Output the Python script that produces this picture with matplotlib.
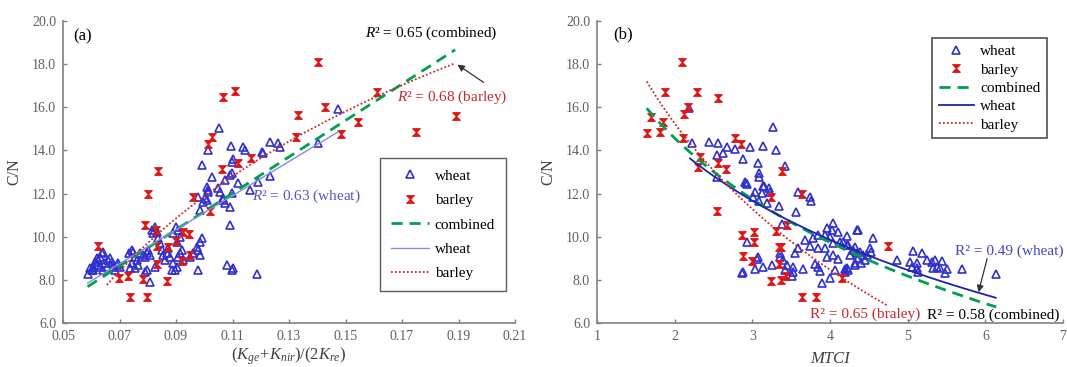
import numpy as np
import matplotlib
matplotlib.use("Agg")
import matplotlib.pyplot as plt
from matplotlib.path import Path

plt.rcParams['font.family'] = ['Liberation Serif', 'DejaVu Serif']
plt.rcParams['mathtext.fontset'] = 'custom'
plt.rcParams['mathtext.rm'] = 'Liberation Serif'
plt.rcParams['mathtext.it'] = 'Liberation Serif:italic'

# ---------------- Panel (a) data ----------------
a_wheat_x = [0.0587, 0.0602, 0.0607, 0.0613, 0.0619, 0.0625, 0.0631, 0.0637, 0.0643, 0.0649,
             0.0655, 0.0660, 0.0666, 0.0672, 0.0678, 0.0684, 0.0690, 0.0696, 0.0702, 0.0631,
             0.0619, 0.0607, 0.0596, 0.0643,
             0.0734, 0.0743, 0.0749, 0.0755, 0.0761, 0.0767, 0.0737, 0.0743, 0.0773, 0.0784,
             0.0790, 0.0796, 0.0802, 0.0808, 0.0814, 0.0820, 0.0826, 0.0832, 0.0837, 0.0843,
             0.0849, 0.0855, 0.0861, 0.0867, 0.0873, 0.0879, 0.0885, 0.0890, 0.0896, 0.0902,
             0.0908, 0.0914, 0.0920, 0.0926, 0.0950, 0.0961, 0.0973, 0.0985, 0.0991, 0.0979,
             0.0985, 0.0979, 0.0796, 0.0808, 0.0826, 0.0790, 0.0755, 0.0900, 0.0908, 0.0914,
             0.0902, 0.0890,
             0.0985, 0.0997, 0.1003, 0.1009, 0.1014, 0.0979, 0.1026, 0.1050, 0.1056, 0.1067,
             0.1073, 0.1091, 0.1097, 0.1091, 0.1121, 0.1162, 0.1191, 0.1233, 0.1091, 0.1079,
             0.1097, 0.1103, 0.1186,
             0.1053, 0.1014, 0.1094, 0.1138, 0.1144, 0.1203, 0.1207, 0.1233, 0.1262, 0.1268,
             0.1404, 0.1475, 0.1103, 0.1097, 0.0991, 0.1097, 0.1073, 0.1014, 0.1009, 0.1067]
a_wheat_y = [8.26, 8.46, 8.61, 8.84, 9.00, 8.92, 9.07, 9.23, 9.30, 8.77,
             8.61, 8.92, 9.00, 8.84, 8.61, 8.46, 8.69, 8.77, 8.61, 8.61,
             8.69, 8.46, 8.53, 8.46,
             9.23, 9.38, 9.30, 9.07, 8.92, 8.69, 8.54, 8.77, 9.23, 9.15,
             9.07, 9.23, 9.38, 9.15, 10.31, 10.16, 10.46, 10.23, 9.93, 9.69,
             9.38, 9.15, 8.92, 9.23, 9.46, 9.07, 8.46, 8.77, 8.46, 8.61,
             9.07, 9.23, 9.38, 8.92, 9.07, 9.23, 9.54, 9.77, 9.93, 9.38,
             9.15, 8.46, 8.46, 7.92, 8.61, 8.38, 8.54, 10.44, 10.31, 10.00,
             9.77, 10.16,
             11.24, 11.62, 11.78, 12.32, 12.16, 11.85, 12.78, 12.24, 12.09, 11.78,
             11.55, 11.39, 12.01, 12.86, 12.47, 12.16, 12.55, 12.81, 10.54, 8.69,
             8.46, 8.54, 8.26,
             15.05, 14.02, 14.21, 14.17, 14.02, 13.94, 13.87, 14.38, 14.33, 14.17,
             14.36, 15.92, 13.59, 13.45, 13.32, 12.94, 12.63, 12.09, 11.70, 11.70]

a_barley_x = [0.1402, 0.1068, 0.1109, 0.1427, 0.1333, 0.1610, 0.1543, 0.1483, 0.1750, 0.1890,
              0.1324, 0.1027, 0.1012, 0.1164, 0.1121, 0.1062, 0.0835, 0.0802, 0.0959, 0.1020,
              0.0790, 0.0829, 0.0924, 0.0946, 0.0899, 0.0625, 0.0832, 0.0873, 0.0950, 0.0920,
              0.0832, 0.0699, 0.0731, 0.0782, 0.0869, 0.0737, 0.0796]
a_barley_y = [18.11, 16.46, 16.75, 16.01, 15.66, 16.72, 15.30, 14.78, 14.85, 15.58,
              14.61, 14.61, 14.30, 13.65, 13.43, 13.12, 13.05, 11.97, 11.83, 11.21,
              10.54, 10.31, 10.23, 10.11, 9.80, 9.58, 9.57, 9.54, 9.15, 8.89,
              8.73, 8.10, 8.18, 8.04, 7.96, 7.22, 7.22]

# trend lines (a): [slope, intercept, x_min, x_max]
a_comb_lin = [84.4, 2.73, 0.0587, 0.1888]
a_wheat_lin = [79.05, 3.21, 0.0587, 0.1475]
# log trend: y = k*ln(x) + c
a_barley_log = [9.71, 34.23, 0.0655, 0.1888]

# ---------------- Panel (b) data ----------------
b_wheat_x = [2.188, 2.219, 2.446, 2.561, 2.669, 2.540, 2.618, 2.776, 2.969, 3.140,
             3.269, 3.304, 3.420, 2.883, 3.076, 3.089, 3.089, 3.140, 2.918, 3.218,
             2.540, 3.153, 3.033, 3.119, 3.226, 3.012, 3.089, 3.184, 3.583, 3.741,
             3.750, 3.342, 3.557, 3.377, 4.041, 3.955, 4.020, 4.105, 4.342, 3.848,
             3.934, 3.999, 4.213, 3.677, 3.784, 3.848, 3.934, 4.041, 4.127, 3.741,
             4.213, 4.299, 4.342, 4.256, 3.591, 3.548, 3.955, 4.041, 4.105, 3.806,
             3.848, 4.193, 4.236, 4.320, 4.063, 3.870, 3.655, 3.526, 3.526, 3.506,
             3.398, 3.441, 3.420, 3.355, 3.355, 3.248, 3.140, 3.033, 3.076, 3.055,
             2.934, 2.862, 2.883, 3.999, 3.892, 4.556, 4.170, 4.236, 4.320, 4.385,
             4.427, 4.363, 4.449, 4.513, 4.534, 4.470, 4.405, 4.213, 4.191, 4.320,
             4.865, 5.063, 5.179, 5.028, 5.050, 5.122, 5.122, 5.135, 5.251, 5.308,
             5.350, 5.436, 5.372, 5.328, 5.414, 5.500, 5.479, 5.706, 6.135, 2.905,
             2.927, 4.363]
b_wheat_y = [15.95, 14.33, 14.38, 14.33, 14.17, 13.79, 13.87, 14.07, 14.17, 14.22,
             15.07, 14.02, 13.28, 13.59, 13.43, 12.94, 12.78, 12.36, 12.51, 12.24,
             12.78, 12.35, 12.09, 12.01, 12.09, 11.85, 11.67, 11.58, 12.09, 11.85,
             11.67, 11.42, 11.16, 10.59, 10.62, 10.39, 10.31, 10.23, 10.31, 10.08,
             10.08, 10.00, 10.03, 9.85, 9.93, 9.46, 9.46, 9.69, 9.77, 9.57,
             9.62, 9.38, 9.23, 9.15, 9.46, 9.26, 9.04, 9.15, 8.95, 8.72,
             8.61, 8.51, 8.46, 8.77, 8.46, 8.42, 8.49, 8.61, 8.38, 8.18,
             8.92, 8.69, 8.46, 9.26, 9.04, 8.69, 8.61, 8.49, 9.07, 8.95,
             9.77, 8.30, 8.38, 8.07, 7.87, 9.96, 9.77, 9.62, 9.54, 9.30,
             9.15, 9.00, 8.92, 9.46, 9.30, 9.15, 8.77, 8.54, 8.38, 8.69,
             8.92, 9.34, 9.23, 8.84, 8.61, 8.77, 8.54, 8.38, 8.92, 8.84,
             8.92, 8.87, 8.58, 8.54, 8.54, 8.49, 8.33, 8.49, 8.26, 12.55,
             12.44, 10.31]

b_barley_x = [2.090, 1.875, 2.291, 2.553, 2.175, 2.120, 1.691, 1.853, 1.647, 1.811,
              2.111, 2.776, 2.853, 2.326, 2.561, 2.656, 2.304, 3.377, 3.239, 3.642,
              2.548, 3.441, 3.304, 2.862, 3.025, 3.025, 3.347, 3.370, 2.883, 2.991,
              3.342, 3.432, 3.236, 3.368, 4.149, 3.635, 3.819, 4.749]
b_barley_y = [18.11, 16.69, 16.72, 16.45, 16.00, 15.69, 15.56, 15.30, 14.79, 14.87,
              14.56, 14.59, 14.30, 13.68, 13.40, 13.12, 13.25, 13.05, 11.83, 11.98,
              11.21, 10.54, 10.28, 10.08, 10.20, 9.77, 9.51, 9.51, 9.10, 8.87,
              8.72, 8.18, 7.96, 7.99, 8.07, 7.22, 7.22, 9.58]

# log trend lines (b): y = k*ln(x) + c, [k, c, x_min, x_max]
b_comb_log = [-6.98, 19.41, 1.64, 6.14]
b_wheat_log = [-6.29, 18.58, 2.197, 6.135]
b_barley_log = [-9.79, 22.04, 1.64, 4.73]

a_xticks = [0.05, 0.07, 0.09, 0.11, 0.13, 0.15, 0.17, 0.19, 0.21]
b_xticks = [1, 2, 3, 4, 5, 6, 7]
yticks = [6.0, 8.0, 10.0, 12.0, 14.0, 16.0, 18.0, 20.0]

# ---------------- styling ----------------
WHEAT_C = '#3030d0'
BARLEY_C = '#e01515'
GREEN = '#00a050'
BARLEY_LINE = '#c8282a'
GREY = '#808080'
TICKC = '#606060'
ANN_FS = 11
LEG_FS = 11

hourglass = Path([(-1, 1), (1, 1), (0, 0), (-1, 1), (-1, -1), (1, -1), (0, 0), (-1, -1)],
                 [Path.MOVETO, Path.LINETO, Path.LINETO, Path.CLOSEPOLY,
                  Path.MOVETO, Path.LINETO, Path.LINETO, Path.CLOSEPOLY])

fig = plt.figure(figsize=(10.67, 3.67), dpi=100)
axa = fig.add_axes([63/1067, 44/367, 452/1067, 302/367])
axb = fig.add_axes([597/1067, 44/367, 466/1067, 302/367])


def style(ax, xlim, xticks, xfmt):
    ax.set_xlim(*xlim)
    ax.set_ylim(6, 20)
    ax.set_xticks(xticks)
    ax.set_xticklabels([xfmt(v) for v in xticks])
    ax.set_yticks(yticks)
    ax.set_yticklabels([f"{v:.1f}" for v in yticks])
    for s in ['top', 'right']:
        ax.spines[s].set_visible(False)
    for s in ['left', 'bottom']:
        ax.spines[s].set_color(GREY)
        ax.spines[s].set_linewidth(1.2)
    ax.tick_params(direction='in', length=3, width=1, color=GREY,
                   labelsize=10, labelcolor=TICKC, pad=5)
    ax.set_ylabel('C/N', fontsize=11.5, color='#404040', labelpad=7)


style(axa, (0.05, 0.21), a_xticks, lambda v: f"{v:.2f}")
style(axb, (1, 7), b_xticks, lambda v: f"{v:d}")

# ---- panel (a) ----
axa.plot(a_wheat_x, a_wheat_y, linestyle='none', marker='^', ms=6, mfc='none',
         mec=WHEAT_C, mew=1.2, label='wheat', zorder=3)
axa.plot(a_barley_x, a_barley_y, linestyle='none', marker=hourglass, ms=5.5, mfc=BARLEY_C,
         mec=BARLEY_C, mew=0.8, label='barley', zorder=3)
xx = np.linspace(a_comb_lin[2], a_comb_lin[3], 50)
axa.plot(xx, a_comb_lin[0]*xx + a_comb_lin[1], color=GREEN, lw=2, ls=(0, (4, 2.5)),
         label='combined', zorder=4)
xx = np.linspace(a_wheat_lin[2], a_wheat_lin[3], 50)
axa.plot(xx, a_wheat_lin[0]*xx + a_wheat_lin[1], color='#8a8ae0', lw=1.0,
         label='wheat', zorder=4)
xx = np.linspace(a_barley_log[2], a_barley_log[3], 100)
axa.plot(xx, a_barley_log[0]*np.log(xx) + a_barley_log[1], color=BARLEY_LINE, lw=1.3,
         ls=(0, (1, 1.2)), label='barley', zorder=4)

axa.set_xlabel(r'$(K_{ge}\!+\!K_{nir})/(2K_{re})$', fontsize=12, color='#404040', labelpad=2)
axa.text(0.022, 0.950, '(a)', transform=axa.transAxes, fontsize=12, va='center', ha='left')
axa.text(0.960, 0.960, r'$R$² = 0.65 (combined)', transform=axa.transAxes, fontsize=ANN_FS,
         va='center', ha='right')
axa.text(0.739, 0.748, r'$R$² = 0.68 (barley)', transform=axa.transAxes, fontsize=ANN_FS,
         va='center', ha='left', color=BARLEY_LINE)
axa.text(0.418, 0.420, r'$R$² = 0.63 (wheat)', transform=axa.transAxes, fontsize=ANN_FS,
         va='center', ha='left', color='#5555c8')
axa.annotate('', xy=(0.1888, 18.05), xytext=(0.1997, 17.08),
             arrowprops=dict(arrowstyle='-|>', color='#333333', lw=0.9, mutation_scale=10))
leg = axa.legend(loc='lower left', bbox_to_anchor=(0.701, 0.106), fontsize=LEG_FS,
                 frameon=True, fancybox=False, edgecolor='#333333', handlelength=2.5,
                 labelspacing=0.7, borderpad=0.7, handletextpad=0.4, borderaxespad=0)
leg.get_frame().set_linewidth(1.0)

# ---- panel (b) ----
axb.plot(b_wheat_x, b_wheat_y, linestyle='none', marker='^', ms=6, mfc='none',
         mec=WHEAT_C, mew=1.2, label='wheat', zorder=3)
axb.plot(b_barley_x, b_barley_y, linestyle='none', marker=hourglass, ms=5.5, mfc=BARLEY_C,
         mec=BARLEY_C, mew=0.8, label='barley', zorder=3)
xx = np.linspace(b_comb_log[2], b_comb_log[3], 100)
axb.plot(xx, b_comb_log[0]*np.log(xx) + b_comb_log[1], color=GREEN, lw=2, ls=(0, (4, 2.5)),
         label='combined', zorder=4)
xx = np.linspace(b_wheat_log[2], b_wheat_log[3], 100)
axb.plot(xx, b_wheat_log[0]*np.log(xx) + b_wheat_log[1], color='#2020b0', lw=1.3,
         label='wheat', zorder=4)
xx = np.linspace(b_barley_log[2], b_barley_log[3], 100)
axb.plot(xx, b_barley_log[0]*np.log(xx) + b_barley_log[1], color=BARLEY_LINE, lw=1.3,
         ls=(0, (1, 1.2)), label='barley', zorder=4)

axb.set_xlabel('MTCI', fontsize=12, color='#404040', style='italic', labelpad=6)
axb.text(0.034, 0.957, '(b)', transform=axb.transAxes, fontsize=12, va='center', ha='left')
axb.text(0.768, 0.238, 'R² = 0.49 (wheat)', transform=axb.transAxes, fontsize=ANN_FS,
         va='center', ha='left', color='#4545c0')
axb.text(0.457, 0.030, 'R² = 0.65 (braley)', transform=axb.transAxes, fontsize=ANN_FS,
         va='center', ha='left', color=BARLEY_LINE)
axb.text(0.708, 0.026, 'R² = 0.58 (combined)', transform=axb.transAxes, fontsize=ANN_FS,
         va='center', ha='left', color='black')
axb.annotate('', xy=(5.903, 7.30), xytext=(6.032, 9.11),
             arrowprops=dict(arrowstyle='-|>', color='#333333', lw=0.9, mutation_scale=10))
leg = axb.legend(loc='upper left', bbox_to_anchor=(0.719, 0.944), fontsize=LEG_FS,
                 frameon=True, fancybox=False, edgecolor='#222222', handlelength=2.3,
                 labelspacing=0.3, borderpad=0.45, handletextpad=0.4, borderaxespad=0)
leg.get_frame().set_linewidth(1.2)

fig.savefig('out.png', dpi=100)
